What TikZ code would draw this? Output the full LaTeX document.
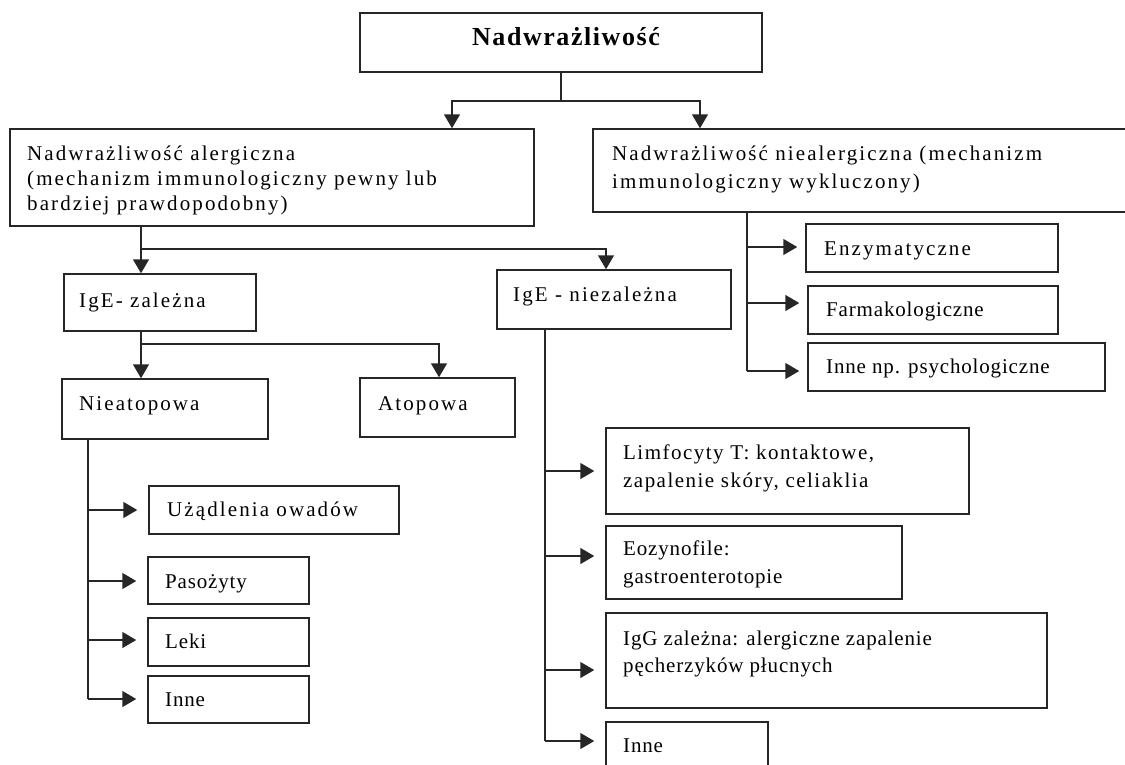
\documentclass[tikz,border=0pt]{standalone}
\usepackage{fontspec}
\setmainfont{Liberation Serif}
\newfontfamily\fwide[LetterSpace=10]{Liberation Serif}
\newfontfamily\fmid[LetterSpace=7]{Liberation Serif}
\newfontfamily\fnarrow[LetterSpace=4]{Liberation Serif}
\newfontfamily\ftitle[LetterSpace=6]{Liberation Serif}
\usetikzlibrary{arrows.meta,fit}
\tikzset{
  box/.style={draw=black!85, line width=1.5pt, inner sep=0pt},
  ln/.style={draw=black!85, line width=1.5pt},
  arr/.style={ln, -{Triangle[length=14pt,width=16pt]}},
  harr/.style={arr, shorten >=11pt},
  wtxt/.style={anchor=base west, inner sep=0pt, align=left, font=\fwide\fontsize{21}{25}\selectfont},
  mtxt/.style={anchor=base west, inner sep=0pt, align=left, font=\fmid\fontsize{21}{28}\selectfont},
  ntxt/.style={anchor=base west, inner sep=0pt, align=left, font=\fnarrow\fontsize{21}{28}\selectfont},
  ttxt/.style={anchor=base, inner sep=0pt, font=\ftitle\bfseries\fontsize{26}{30}\selectfont}
}
\begin{document}
\begin{tikzpicture}[x=1pt,y=-1pt]
\useasboundingbox (0,0) rectangle (1125,764);
% boxes (multi-line texts are placed by the baseline of their last line)
\node[box, fit={(360,13)(762,72)}] (top) {};
\node[ttxt] (topT) at (566,45) {Nadwrażliwość};
\node[box, fit={(10,129)(534,226)}] (alerg) {};
\node[wtxt] (alergT) at (27,210) {Nadwrażliwość alergiczna\\(mechanizm immunologiczny pewny lub\\bardziej prawdopodobny)};
\node[box, fit={(593,129)(1140,212)}] (nieal) {};
\node[wtxt, font=\fwide\fontsize{21}{28}\selectfont] (nialT) at (612,188) {Nadwrażliwość niealergiczna (mechanizm\\immunologiczny wykluczony)};
\node[box, fit={(806,224)(1058,272)}] (enz) {};
\node[wtxt] (enzT) at (824,255) {Enzymatyczne};
\node[box, fit={(808,286)(1058,334)}] (farm) {};
\node[ntxt] (farmT) at (826,316) {Farmakologiczne};
\node[box, fit={(808,343)(1105,391)}] (innenp) {};
\node[ntxt] (innenpT) at (826,373) {Inne np. psychologiczne};
\node[box, fit={(64,274)(256,331)}] (igez) {};
\node[wtxt] (igezT) at (79,307) {IgE- zależna};
\node[box, fit={(497,270)(731,329)}] (igen) {};
\node[wtxt] (igenT) at (513,301) {IgE - niezależna};
\node[box, fit={(62,379)(268,439)}] (nieat) {};
\node[wtxt] (nieatT) at (79,410) {Nieatopowa};
\node[box, fit={(360,378)(515,437)}] (atop) {};
\node[wtxt] (atopT) at (378,410) {Atopowa};
\node[box, fit={(149,486)(399,534)}] (uzad) {};
\node[wtxt] (uzadT) at (167,516) {Użądlenia owadów};
\node[box, fit={(148,557)(309,604)}] (paso) {};
\node[ntxt] (pasoT) at (165,588) {Pasożyty};
\node[box, fit={(148,618)(309,666)}] (leki) {};
\node[ntxt] (lekiT) at (165,648) {Leki};
\node[box, fit={(148,676)(309,723)}] (inneA) {};
\node[ntxt] (inneAT) at (165,706) {Inne};
\node[box, fit={(606,428)(969,514)}] (limf) {};
\node[mtxt] (limfT) at (623,487) {Limfocyty T: kontaktowe,\\zapalenie skóry, celiaklia};
\node[box, fit={(606,526)(902,599)}] (eoz) {};
\node[ntxt] (eozT) at (623,583) {Eozynofile:\\gastroenterotopie};
\node[box, fit={(606,613)(1047,708)}] (igg) {};
\node[ntxt, font=\fnarrow\fontsize{21}{27}\selectfont] (iggT) at (623,672) {IgG zależna: alergiczne zapalenie\\pęcherzyków płucnych};
\node[box, fit={(606,722)(768,800)}] (inneB) {};
\node[ntxt] (inneBT) at (623,752) {Inne};
% junction coordinates
\coordinate (j0) at (561,101);
\coordinate (xa) at (452,0);
\coordinate (xb) at (700,0);
\coordinate (j1) at (141,249);
\coordinate (xc) at (606,0);
\coordinate (j2) at (141,344);
\coordinate (xd) at (439,0);
\coordinate (a1) at (88,510);
\coordinate (a2) at (88,581);
\coordinate (a3) at (88,640);
\coordinate (a4) at (88,699);
\coordinate (b1) at (545,471);
\coordinate (b2) at (545,556);
\coordinate (b3) at (545,670);
\coordinate (b4) at (545,741);
\coordinate (c1) at (747,247);
\coordinate (c2) at (747,303);
\coordinate (c3) at (747,371);
% connectors
\draw[ln] (top.south) -- (j0);
\draw[arr] (j0) -| (alerg.north -| xa);
\draw[arr] (j0) -| (nieal.north -| xb);
\draw[ln] (alerg.south -| j1) -- (j1);
\draw[arr] (j1) -- (igez.north -| j1);
\draw[arr] (j1) -| (igen.north -| xc);
\draw[ln] (igez.south -| j2) -- (j2);
\draw[arr] (j2) -- (nieat.north -| j2);
\draw[arr] (j2) -| (atop.north -| xd);
\draw[ln] (nieat.south -| a1) -- (a4);
\draw[harr] (a1) -- (uzad.west |- a1);
\draw[harr] (a2) -- (paso.west |- a2);
\draw[harr] (a3) -- (leki.west |- a3);
\draw[harr] (a4) -- (inneA.west |- a4);
\draw[ln] (igen.south -| b1) -- (b4);
\draw[harr] (b1) -- (limf.west |- b1);
\draw[harr] (b2) -- (eoz.west |- b2);
\draw[harr] (b3) -- (igg.west |- b3);
\draw[harr] (b4) -- (inneB.west |- b4);
\draw[ln] (nieal.south -| c1) -- (c3);
\draw[arr, shorten >=8pt] (c1) -- (enz.west |- c1);
\draw[arr, shorten >=8pt] (c2) -- (farm.west |- c2);
\draw[arr, shorten >=8pt] (c3) -- (innenp.west |- c3);
\end{tikzpicture}
\end{document}
